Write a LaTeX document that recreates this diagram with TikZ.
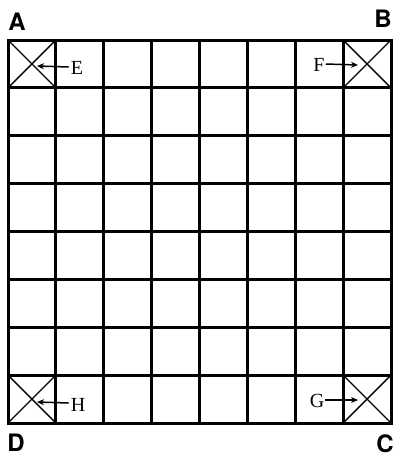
\documentclass[tikz,border=0pt]{standalone}
\usepackage{fontspec}
\newfontfamily\cornerfont{TeX Gyre Heros}
\newfontfamily\tagfont{Liberation Serif}
\usetikzlibrary{arrows.meta}
\begin{document}
\begin{tikzpicture}[x=1pt,y=-1pt,
  gridline/.style={line width=3pt,line cap=rect},
  diag/.style={line width=1.3pt},
  corner/.style={font=\cornerfont\bfseries\fontsize{24}{24}\selectfont,inner sep=0pt},
  tag/.style={font=\tagfont\fontsize{20}{20}\selectfont,inner sep=0pt},
  pointer/.style={line width=1.5pt,-{Stealth[length=7pt,width=6pt]}}]
\useasboundingbox (0,0) rectangle (394,459);
\def\cs{47.875}
% grid
\foreach \i in {0,...,8}{
  \draw[gridline] ({8+\i*\cs},40) -- ({8+\i*\cs},423);
  \draw[gridline] (8,{40+\i*\cs}) -- (391,{40+\i*\cs});
}
% crossed corner cells
\draw[diag] (8,40) -- ({8+\cs},{40+\cs}) (8,{40+\cs}) -- ({8+\cs},40);
\draw[diag] ({391-\cs},40) -- (391,{40+\cs}) ({391-\cs},{40+\cs}) -- (391,40);
\draw[diag] (8,{423-\cs}) -- ({8+\cs},423) (8,423) -- ({8+\cs},{423-\cs});
\draw[diag] ({391-\cs},{423-\cs}) -- (391,423) ({391-\cs},423) -- (391,{423-\cs});
% corner labels
\node[corner] (A) at (17,22) {A};
\node[corner] (B) at (383,19) {B};
\node[corner] (D) at (16,443) {D};
\node[corner] (C) at (385,444) {C};
% pointer labels
\node[tag] (E) at (77,68) {E};
\node[tag] (F) at (319,65) {F};
\node[tag] (H) at (78,405) {H};
\node[tag] (G) at (317,401) {G};
\coordinate (e) at (37,66);
\coordinate (f) at (358,65);
\coordinate (h) at (37,402);
\coordinate (g) at (358,400);
\draw[pointer] (E.west) ++(-2,-1) -- (e);
\draw[pointer] (F.east) ++(1,-1) -- (f);
\draw[pointer] (H.west) ++(-2,-2) -- (h);
\draw[pointer] (G.east) ++(1,-1) -- (g);
\end{tikzpicture}
\end{document}
